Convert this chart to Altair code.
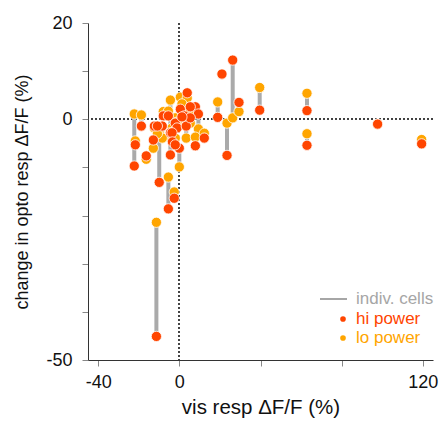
import altair as alt
import pandas as pd

# per-cell values: vis response (x), change in opto response at hi / lo power
cell_x = [-22.2, -18.7, -21.7, -16.3, -12.3, -12.8, -9.9, -7.9, -5.4, -4.4,
          -4.4, -5.4, -2.5, -11.3, 0.0, 0.5, 3.9, -2.0, -1.1, -3.6,
          -3.4, -2.0, 2.5, 7.9, 9.4, 12.3, 3.4, 7.9, 5.4, -8.4,
          -10.8, 1.3, 5.4, 18.9, 21.0, 23.5, 26.3, 29.4, 39.6, 62.9,
          62.9, 97.7, 119.4]
hi_vals = [-9.7, -1.4, -5.3, -7.6, -1.4, -4.3, -13.1, 0.7, 0.7, -7.4,
           -2.8, -18.6, -16.4, -45.1, -6.0, 2.1, 5.5, -0.8, -1.8, -2.8,
           -4.7, -5.3, 0.7, 2.6, 1.1, -3.9, -1.4, -5.5, 0.3, -1.4,
           -1.4, 0.5, 2.6, 0.4, 9.4, -7.5, 12.3, 3.5, 1.9, 1.8,
           -5.4, -1.0, -5.1]
lo_vals = [1.1, 0.9, -4.5, -8.3, -1.8, -6.0, -2.9, 1.6, 1.7, -3.9,
           4.0, -12.0, -15.1, -21.4, -9.9, 4.6, 4.4, 0.3, -0.6, -1.8,
           -3.3, -3.9, 1.5, 1.5, -2.0, -2.9, -3.9, -3.7, -0.8, -3.9,
           -3.0, 3.2, 1.5, 3.6, 9.4, -0.8, 0.3, 1.6, 6.6, 5.4,
           -3.0, -1.0, -4.2]

x_ticks = [-40, 0, 40, 80, 120]
y_ticks = [-50, -40, -30, -20, -10, 0, 10, 20]

legend_labels = ["indiv. cells", "hi power", "lo power"]

HI = "#ff4500"
LO = "#ffa500"
GRAY = "#aaaaaa"
FONT = "Liberation Sans"

cells = pd.DataFrame({"x": cell_x, "hi": hi_vals, "lo": lo_vals})

xs = alt.Scale(domain=[-45, 125], nice=False, zero=False)
ys = alt.Scale(domain=[-50, 20], nice=False, zero=False)

x_axis = alt.Axis(values=x_ticks, grid=False, tickSize=6, tickColor="#888888",
                  domainColor="#333333", labelFontSize=18, labelFont=FONT,
                  labelColor="#111111", labelPadding=7,
                  labelExpr="(datum.value == 40 || datum.value == 80) ? '' : '' + datum.value",
                  title="vis resp ΔF/F (%)", titleFont=FONT, titleFontSize=20.5,
                  titleFontWeight="normal", titleColor="#111111", titlePadding=6)
y_axis = alt.Axis(values=y_ticks, grid=False, tickSize=6, tickColor="#888888",
                  domainColor="#333333", labelFontSize=18, labelFont=FONT,
                  labelColor="#111111", labelPadding=10,
                  labelExpr="(datum.value == 20 || datum.value == 0 || datum.value == -50) ? '' + datum.value : ''",
                  title="change in opto resp ΔF/F (%)", titleFont=FONT, titleFontSize=18,
                  titleFontWeight="normal", titleColor="#111111", titlePadding=14)

base = alt.Chart(cells)

vref = base.mark_rule(color="#444444", strokeWidth=0.8, strokeDash=[2, 2]).encode(
    x=alt.datum(0, scale=xs, axis=x_axis))
href = base.mark_rule(color="#444444", strokeWidth=0.8, strokeDash=[2, 2]).encode(
    y=alt.datum(0, scale=ys, axis=y_axis))

links = base.mark_rule(color=GRAY, strokeWidth=4).encode(
    x=alt.X("x:Q", scale=xs, axis=x_axis),
    y=alt.Y("hi:Q", scale=ys, axis=y_axis),
    y2="lo:Q")

lo_pts = base.mark_circle(size=105, color=LO, opacity=1, stroke="white", strokeWidth=0.8).encode(
    x=alt.X("x:Q", scale=xs, axis=x_axis),
    y=alt.Y("lo:Q", scale=ys, axis=y_axis))
hi_pts = base.mark_circle(size=105, color=HI, opacity=1, stroke="white", strokeWidth=0.8).encode(
    x=alt.X("x:Q", scale=xs, axis=x_axis),
    y=alt.Y("hi:Q", scale=ys, axis=y_axis))

# manual legend (pixel positions inside plot area)
leg = pd.DataFrame({"label": legend_labels})
leg0 = alt.Chart(leg).transform_filter(alt.datum.label == legend_labels[0])
leg1 = alt.Chart(leg).transform_filter(alt.datum.label == legend_labels[1])
leg2 = alt.Chart(leg).transform_filter(alt.datum.label == legend_labels[2])

leg_line = leg0.mark_rule(color="#a6a6a6", strokeWidth=2).encode(
    x=alt.value(232), x2=alt.value(259), y=alt.value(276))
leg_dot1 = leg1.mark_circle(size=32, opacity=1, color=HI).encode(
    x=alt.value(255), y=alt.value(296))
leg_dot2 = leg2.mark_circle(size=32, opacity=1, color=LO).encode(
    x=alt.value(255), y=alt.value(315))
txt = dict(align="left", baseline="middle", font=FONT, fontSize=17)
leg_t0 = leg0.mark_text(color="#a6a6a6", **txt).encode(
    x=alt.value(268), y=alt.value(276), text="label:N")
leg_t1 = leg1.mark_text(color=HI, **txt).encode(
    x=alt.value(268), y=alt.value(296), text="label:N")
leg_t2 = leg2.mark_text(color=LO, **txt).encode(
    x=alt.value(268), y=alt.value(315), text="label:N")

chart = alt.layer(vref, href, links, lo_pts, hi_pts,
                  leg_line, leg_dot1, leg_dot2, leg_t0, leg_t1, leg_t2).properties(
    width=345, height=337,
    autosize=alt.AutoSizeParams(type="none"),
    padding={"left": 88, "top": 23, "right": 12, "bottom": 65},
).configure_view(stroke=None)

chart.save("out.html", embed_options={"renderer": "svg", "actions": False})
